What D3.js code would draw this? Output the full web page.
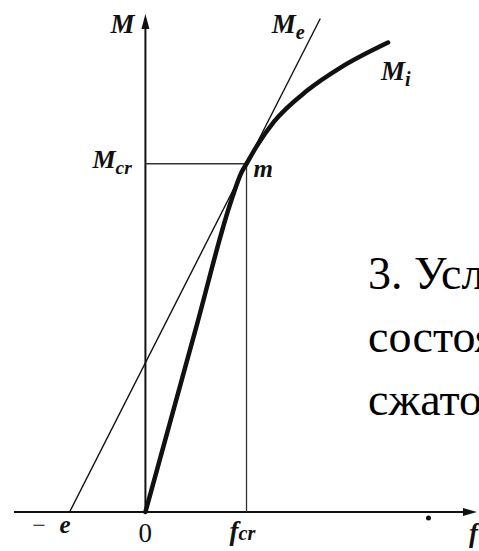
<!DOCTYPE html>
<html>
<head>
<meta charset="utf-8">
<script src="https://cdn.jsdelivr.net/npm/d3@7"></script>
</head>
<body style="margin:0">
<script>
// Moment–deflection relation: elastic line Me and inelastic curve Mi
const e = 0.75;        // eccentricity, plotted at -e on the f axis
const fcr = 1.0;       // critical deflection
const Mcr = 1.0;       // critical moment

// Inelastic curve Mi (deflection f, moment M)
const miF = [0, 0.5, 0.85, 0.95, 1.0, 1.1, 1.27, 1.6, 1.93, 2.4];
const miM = [0, 0.528, 0.895, 0.975, 1.0, 1.05, 1.12, 1.21, 1.276, 1.348];

// Elastic line Me from (-e, 0) through (fcr, Mcr)
const meF = [-e, 1.73];
const meM = meF.map(f => (f + e) / (fcr + e) * Mcr);

const textLines = ["3. Услов", "состоя", "сжатог"];

const W = 479, H = 551;
const svg = d3.select("body").append("svg").attr("width", W).attr("height", H)
  .style("display", "block");

const x = d3.scaleLinear().domain([-1.3, 3.28]).range([14, 477]);
const y = d3.scaleLinear().domain([0, 1.43]).range([512, 14]);

// axes
svg.append("line").attr("x1", x(-1.3)).attr("x2", x(3.28) - 10)
  .attr("y1", y(0)).attr("y2", y(0)).attr("stroke", "#111").attr("stroke-width", 2);
svg.append("path")
  .attr("d", `M${x(3.28)},${y(0)} L${x(3.28) - 14},${y(0) - 4} L${x(3.28) - 14},${y(0) + 4} Z`)
  .attr("fill", "#111");
svg.append("line").attr("x1", x(0)).attr("x2", x(0))
  .attr("y1", y(0)).attr("y2", y(1.43) + 12).attr("stroke", "#111").attr("stroke-width", 2);
svg.append("path")
  .attr("d", `M${x(0)},${y(1.43)} L${x(0) - 4},${y(1.43) + 15} L${x(0) + 4},${y(1.43) + 15} Z`)
  .attr("fill", "#111");

// critical guides
svg.append("line").attr("x1", x(0)).attr("x2", x(fcr))
  .attr("y1", y(Mcr)).attr("y2", y(Mcr)).attr("stroke", "#333").attr("stroke-width", 1.3);
svg.append("line").attr("x1", x(fcr)).attr("x2", x(fcr))
  .attr("y1", y(Mcr)).attr("y2", y(0)).attr("stroke", "#333").attr("stroke-width", 1.3);

// Me line
const lineGen = d3.line().x(d => x(d[0])).y(d => y(d[1]));
svg.append("path").datum(meF.map((f, i) => [f, meM[i]]))
  .attr("d", lineGen).attr("fill", "none").attr("stroke", "#111").attr("stroke-width", 1.4);

// Mi curve
const curveGen = d3.line().x(d => x(d[0])).y(d => y(d[1])).curve(d3.curveMonotoneX);
svg.append("path").datum(miF.map((f, i) => [f, miM[i]]))
  .attr("d", curveGen).attr("fill", "none").attr("stroke", "#111")
  .attr("stroke-width", 4.5).attr("stroke-linecap", "round");

// small mark on the f axis
svg.append("circle").attr("cx", x(2.8)).attr("cy", y(0) + 6).attr("r", 2.5).attr("fill", "#111");

// labels
function label(px, py, main, sub, size, dy) {
  const t = svg.append("text").attr("x", px).attr("y", py).attr("font-size", size)
    .style("font-family", "Liberation Serif").style("font-style", "italic").style("font-weight", "bold")
    .attr("fill", "#111");
  t.append("tspan").text(main);
  if (sub) t.append("tspan").attr("dy", dy === undefined ? 6 : dy)
    .attr("font-size", size * 0.75).text(sub);
  return t;
}
label(x(0) - 35, 33, "M", null, 27);
label(x(1.25), 33, "M", "e", 27);
label(x(2.33), 80, "M", "i", 27);
label(x(0) - 53, 168, "M", "cr", 26);
label(x(fcr) + 7, 177, "m", null, 25);

svg.append("text").attr("x", x(-1.12)).attr("y", 533).attr("font-size", 24)
  .style("font-family", "Liberation Serif").attr("fill", "#111").text("−");
label(x(-0.85), 533, "e", null, 25);
svg.append("text").attr("x", x(0) - 7).attr("y", 542).attr("font-size", 27)
  .style("font-family", "Liberation Serif").attr("fill", "#111").text("0");
label(x(fcr) - 17, 540, "f", "cr", 27, 0);
label(x(3.2), 542, "f", null, 27);

// side text, running off the right edge
textLines.forEach((s, i) => {
  svg.append("text").attr("x", 368).attr("y", 289 + i * 63).attr("font-size", 46)
    .style("font-family", "Liberation Serif").attr("fill", "#000").text(s);
});
</script>
</body>
</html>
